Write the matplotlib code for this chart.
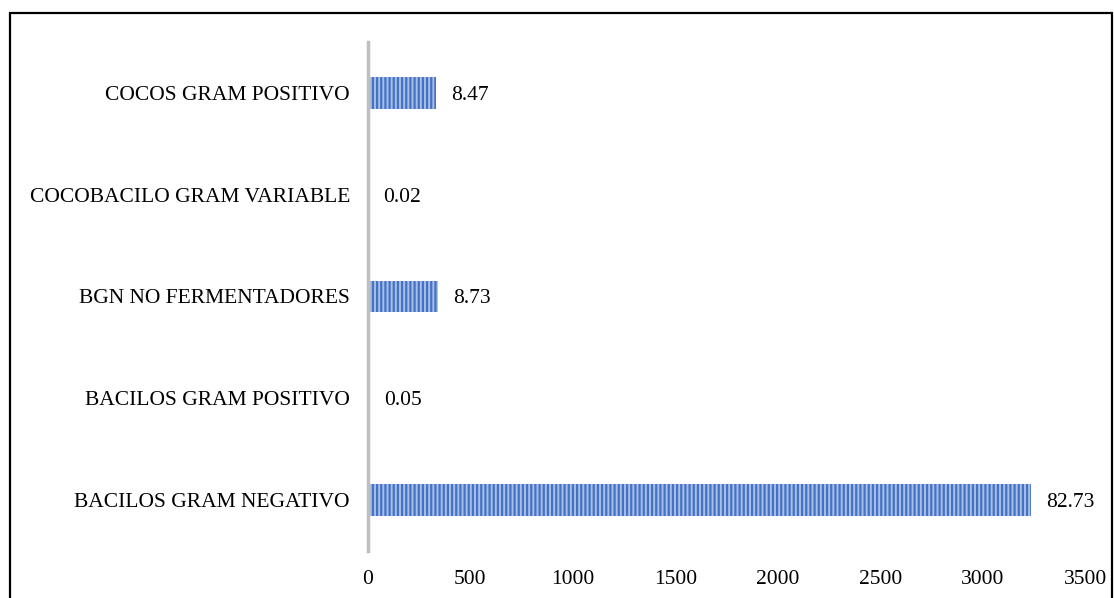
import matplotlib.pyplot as plt
import matplotlib.patches as mpatches
import numpy as np

categories = ['BACILOS GRAM NEGATIVO', 'BACILOS GRAM POSITIVO', 'BGN NO FERMENTADORES',
              'COCOBACILO GRAM VARIABLE', 'COCOS GRAM POSITIVO']
counts = [3236, 2, 341, 1, 331]
percents = [82.73, 0.05, 8.73, 0.02, 8.47]
xticks = [0, 500, 1000, 1500, 2000, 2500, 3000, 3500]

plt.rcParams['font.family'] = ['Liberation Serif', 'DejaVu Serif']
plt.rcParams['hatch.linewidth'] = 1.6

fig = plt.figure(figsize=(11.14, 5.98), dpi=100)
ax = fig.add_axes([0.3303, 0.0786, 0.974 - 0.3303, 0.9298 - 0.0786])

y = np.arange(len(categories))
ax.barh(y, counts, height=0.31, color='#a9bfe6', edgecolor='#4472c4',
        linewidth=0, hatch='||||')

for yi, c, p in zip(y, counts, percents):
    ax.annotate(f'{p:.2f}', xy=(c, yi), xytext=(11, 0), textcoords='offset points',
                ha='left', va='center_baseline', fontsize=15.5, color='#000000')

ax.set_xlim(0, 3500)
ax.set_ylim(-0.5, len(categories) - 0.5)
ax.set_xticks(xticks)
ax.set_yticks(y)
ax.set_yticklabels(categories)
ax.tick_params(axis='both', length=0, labelsize=15.5)
ax.tick_params(axis='x', pad=14)
ax.tick_params(axis='y', pad=13)

for s in ['top', 'right', 'bottom']:
    ax.spines[s].set_visible(False)
ax.spines['left'].set_color('#bfbfbf')
ax.spines['left'].set_linewidth(2.5)

# outer frame
frame = mpatches.Rectangle((9.5 / 1114, -0.05), (1111.5 - 9.5) / 1114, 1.05 - 12.5 / 598,
                           transform=fig.transFigure, fill=False, edgecolor='black',
                           linewidth=1.6, clip_on=False)
fig.patches.append(frame)

fig.savefig('out.png', dpi=100)
